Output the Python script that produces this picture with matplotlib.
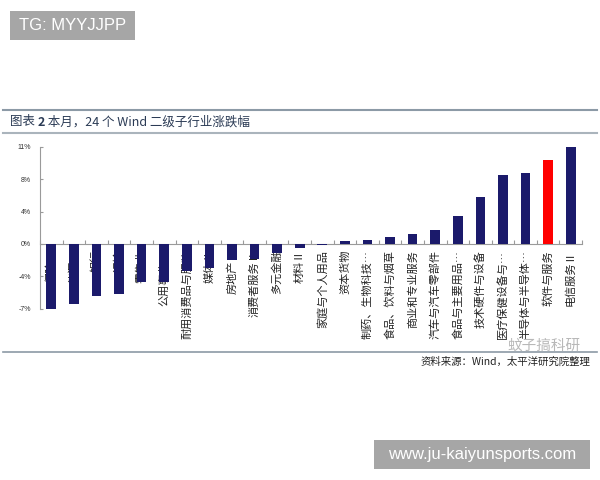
import matplotlib
matplotlib.use('Agg')
import matplotlib.pyplot as plt
from matplotlib.patches import Rectangle
from matplotlib.lines import Line2D
import matplotlib.transforms as mtrans
import numpy as np

plt.rcParams['font.family'] = ['Noto Sans CJK SC', 'DejaVu Sans']

categories = ['保险Ⅱ', '能源Ⅱ', '银行', '运输', '零售业', '公用事业Ⅱ',
              '耐用消费品与服装', '媒体Ⅱ', '房地产Ⅱ', '消费者服务Ⅱ', '多元金融', '材料Ⅱ',
              '家庭与个人用品', '资本货物', '制药、生物科技…', '食品、饮料与烟草',
              '商业和专业服务', '汽车与汽车零部件', '食品与主要用品…', '技术硬件与设备',
              '医疗保健设备与…', '半导体与半导体…', '软件与服务', '电信服务Ⅱ']
values = [-7.5, -7.0, -6.05, -5.85, -4.42, -4.38,
          -3.18, -2.77, -1.92, -1.80, -1.04, -0.46,
          -0.10, 0.39, 0.46, 0.81,
          1.12, 1.66, 3.20, 5.47,
          7.96, 8.24, 9.66, 11.25]
highlight = '软件与服务'
ytick_vals = [-7.5, -3.75, 0, 3.75, 7.5, 11.25]
ytick_labels = ['-7%', '-4%', '0%', '4%', '8%', '11%']

W, H = 600, 480
fig = plt.figure(figsize=(6, 4.8), dpi=100)


def fx(x):
    return x / W


def fy(y):
    return 1 - y / H


NAVY = '#1b1a6b'
AXC = '#9a9a9a'

ax = fig.add_axes([fx(40), fy(308.7), fx(582) - fx(40), fy(146.7) - fy(308.7)])
ax.patch.set_visible(False)
x = np.arange(len(categories))
colors = ['#ff0000' if c == highlight else NAVY for c in categories]
ax.bar(x, values, width=0.43, color=colors, zorder=3)
ax.set_xlim(-0.5, len(categories) - 0.5)
ax.set_ylim(ytick_vals[0], ytick_vals[-1])
for s in ['top', 'right']:
    ax.spines[s].set_visible(False)
ax.spines['bottom'].set_position(('data', 0))
ax.spines['bottom'].set_color(AXC)
ax.spines['left'].set_color(AXC)
ax.set_xticks(np.arange(-0.5, len(categories), 1))
ax.set_xticklabels([])
ax.tick_params(axis='x', direction='in', length=3, color=AXC)
ax.set_yticks(ytick_vals)
ax.set_yticklabels(ytick_labels, fontsize=5, color='#333333', family='Liberation Sans')
ax.tick_params(axis='y', direction='in', length=2, color=AXC, pad=6.5)

# category labels (below zero line, behind bars, clipped at chart bottom)
clip = Rectangle((0, fy(351)), 1, fy(244) - fy(351), transform=fig.transFigure)
tr = mtrans.blended_transform_factory(ax.transData, fig.transFigure)
for i, c in enumerate(categories):
    t = fig.text(i, fy(250), c, transform=tr, rotation=90, ha='center', va='top',
                 fontsize=8, color='#222222', zorder=-1)
    t.set_clip_path(clip)
    t.set_clip_on(True)

# header box
fig.patches.append(Rectangle((fx(10), fy(40)), fx(125), 29 / H, transform=fig.transFigure,
                             facecolor='#a6a6a6', edgecolor='none'))
fig.text(fx(72.5), fy(25.5), 'TG: MYYJJPP', color='white', fontsize=12,
         family='Liberation Sans', ha='center', va='center')

# footer box
fig.patches.append(Rectangle((fx(374), fy(469)), fx(216), 29 / H, transform=fig.transFigure,
                             facecolor='#a6a6a6', edgecolor='none'))
fig.text(fx(482), fy(454.5), 'www.ju-kaiyunsports.com', color='white', fontsize=12,
         family='Liberation Sans', ha='center', va='center')

# rules
fig.add_artist(Line2D([fx(3), fx(597)], [fy(110)] * 2, transform=fig.transFigure,
                      color='#8c9aa6', lw=1.5))
fig.add_artist(Line2D([fx(3), fx(597)], [fy(133)] * 2, transform=fig.transFigure,
                      color='#aab4bc', lw=1.5))
fig.add_artist(Line2D([fx(3), fx(597)], [fy(352)] * 2, transform=fig.transFigure,
                      color='#8c9aa6', lw=1.2))

# title with bold "2"
TC = '#2b3b55'
fig.canvas.draw()
r = fig.canvas.get_renderer()
xpos = fx(10)
for part, wt in [('图表 ', 'normal'), ('2', 'bold'), (' 本月，24 个 Wind 二级子行业涨跌幅', 'normal')]:
    t = fig.text(xpos, fy(122), part, fontsize=9, color=TC, weight=wt, ha='left', va='center')
    bb = t.get_window_extent(renderer=r)
    xpos += bb.width / W

# source
fig.text(fx(590), fy(362), '资料来源：Wind，太平洋研究院整理', fontsize=7.5, color='#222222',
         ha='right', va='center', style='italic')

# watermark
fig.text(fx(507), fy(346), '蚊子搞科研', fontsize=10.5, color='#b8b8b8', ha='left', va='center')

fig.savefig('out.png', dpi=100)
